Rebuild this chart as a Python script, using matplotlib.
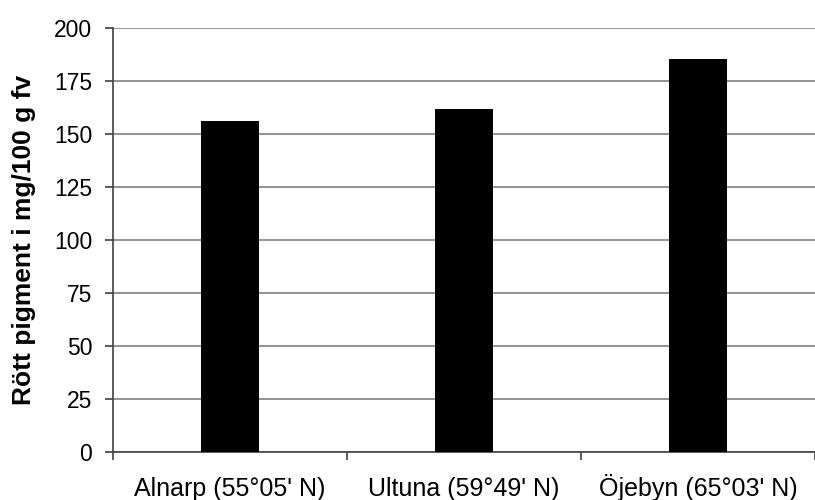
import matplotlib
matplotlib.use("Agg")
import matplotlib.pyplot as plt
import numpy as np

categories = ["Alnarp (55°05' N)", "Ultuna (59°49' N)", "Öjebyn (65°03' N)"]
values = [156, 162, 185.5]
yticks = [0, 25, 50, 75, 100, 125, 150, 175, 200]

plt.rcParams['font.family'] = ['Liberation Sans', 'DejaVu Sans']

fig = plt.figure(figsize=(8.15, 5.0), dpi=100)
ax = fig.add_axes([113/815, 1-452/500, 1-113/815, (452-28)/500])

x = np.arange(len(categories))
ax.bar(x, values, width=0.245, color='black', zorder=3)

ax.set_ylim(0, 200)
ax.set_yticks(yticks)
ax.set_yticklabels([str(t) for t in yticks], fontsize=16.5)
ax.yaxis.grid(True, color='#808080', linewidth=1.2, zorder=0)
ax.set_xlim(-0.5, 2.49)
ax.set_xticks([-0.5, 0.5, 1.5, 2.5])
ax.set_xticklabels([])
ax.set_xticks(x, minor=True)
ax.set_xticklabels(categories, minor=True, fontsize=18, va='baseline')
ax.tick_params(axis='x', which='minor', length=0, pad=32)
ax.tick_params(axis='x', which='major', length=6, color='#404040', width=1.2)
ax.tick_params(axis='y', length=6, color='#404040', width=1.2, pad=9)

for s in ['top', 'right']:
    ax.spines[s].set_visible(False)
for s in ['left', 'bottom']:
    ax.spines[s].set_color('#404040')
    ax.spines[s].set_linewidth(1.2)

ax.set_ylabel("Rött pigment i mg/100 g fv", fontsize=19, fontweight='bold', labelpad=13)

fig.savefig("out.png", dpi=100)
